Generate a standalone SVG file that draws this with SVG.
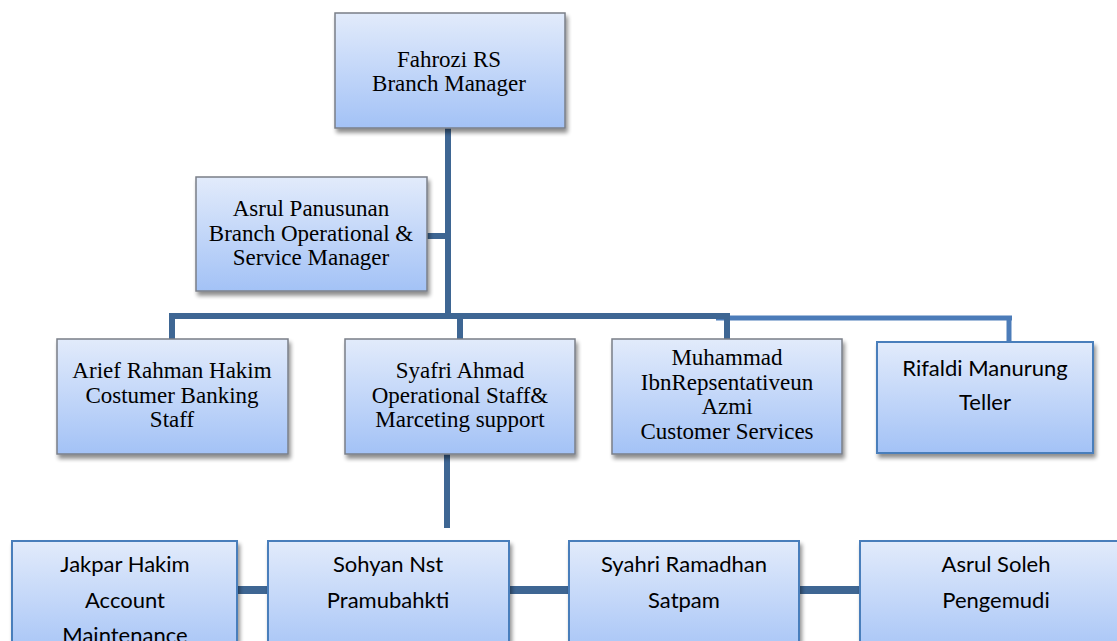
<svg xmlns="http://www.w3.org/2000/svg" width="1117" height="641" viewBox="0 0 1117 641">
<defs>
<linearGradient id="g" x1="0" y1="0" x2="0" y2="1">
<stop offset="0" stop-color="#E2EBFB"/>
<stop offset="1" stop-color="#A3C2F6"/>
</linearGradient>
<filter id="sh" x="-10%" y="-10%" width="130%" height="130%">
<feGaussianBlur in="SourceAlpha" stdDeviation="2"/>
<feOffset dx="2" dy="4" result="b"/>
<feComponentTransfer><feFuncA type="linear" slope="0.45"/></feComponentTransfer>
<feMerge><feMergeNode/><feMergeNode in="SourceGraphic"/></feMerge>
</filter>
</defs>
<style>
.box{fill:url(#g);stroke:#7A7F88;stroke-width:1.5;filter:url(#sh)}
.boxb{fill:url(#g);stroke:#4A7EBB;stroke-width:2;filter:url(#sh)}
.serif{font-family:"Liberation Serif","Times New Roman",serif;font-size:23px;fill:#000;text-anchor:middle}
.sans{font-family:Lato,"Open Sans","Liberation Sans",sans-serif;font-size:22px;fill:#000;text-anchor:middle}
.c{stroke:#3E6693;stroke-width:6;fill:none}
.cl{stroke:#4C7CB9;stroke-width:5;fill:none}
.cb{stroke:#3E6693;stroke-width:8;fill:none}
</style>
<g id="connectors">
<line class="c" x1="448" y1="128" x2="448" y2="319"/>
<line class="c" x1="427" y1="236" x2="451" y2="236"/>
<line class="cl" x1="716" y1="318" x2="1012" y2="318"/>
<line class="c" x1="169" y1="316" x2="729" y2="316"/>
<line class="c" x1="172" y1="313" x2="172" y2="339"/>
<line class="c" x1="460" y1="313" x2="460" y2="339"/>
<line class="c" x1="727" y1="313" x2="727" y2="339"/>
<line class="cl" x1="1009" y1="316" x2="1009" y2="343"/>
<line class="c" x1="447" y1="454" x2="447" y2="528"/>
<line class="cb" x1="237" y1="590" x2="268" y2="590"/>
<line class="cb" x1="509" y1="590" x2="569" y2="590"/>
<line class="cb" x1="799" y1="590" x2="860" y2="590"/>
</g>
<g id="n-fahrozi">
<rect class="box" x="335" y="13" width="230" height="115"/>
<text class="serif" x="449" y="67">Fahrozi RS</text>
<text class="serif" x="449" y="91">Branch Manager</text>
</g>
<g id="n-asrulp">
<rect class="box" x="196" y="177" width="231" height="114"/>
<text class="serif" x="311" y="216">Asrul Panusunan</text>
<text class="serif" x="311" y="240.5">Branch Operational &amp;</text>
<text class="serif" x="311" y="265">Service Manager</text>
</g>
<g id="n-arief">
<rect class="box" x="57" y="339" width="231" height="115"/>
<text class="serif" x="172" y="378">Arief Rahman Hakim</text>
<text class="serif" x="172" y="402.5">Costumer Banking</text>
<text class="serif" x="172" y="427">Staff</text>
</g>
<g id="n-syafri">
<rect class="box" x="345" y="339" width="230" height="115"/>
<text class="serif" x="460" y="378">Syafri Ahmad</text>
<text class="serif" x="460" y="402.5">Operational Staff&amp;</text>
<text class="serif" x="460" y="427">Marceting support</text>
</g>
<g id="n-muhammad">
<rect class="box" x="612" y="339" width="230" height="115"/>
<text class="serif" x="727" y="365">Muhammad</text>
<text class="serif" x="727" y="389.5">IbnRepsentativeun</text>
<text class="serif" x="727" y="414">Azmi</text>
<text class="serif" x="727" y="438.5">Customer Services</text>
</g>
<g id="n-rifaldi">
<rect class="boxb" x="877" y="342" width="216" height="111"/>
<text class="sans" x="985" y="376">Rifaldi Manurung</text>
<text class="sans" x="985" y="410">Teller</text>
</g>
<g id="n-jakpar">
<rect class="boxb" x="12" y="541" width="225" height="120"/>
<text class="sans" x="125" y="572">Jakpar Hakim</text>
<text class="sans" x="125" y="608">Account</text>
<text class="sans" x="125" y="643">Maintenance</text>
</g>
<g id="n-sohyan">
<rect class="boxb" x="268" y="541" width="241" height="120"/>
<text class="sans" x="388" y="572">Sohyan Nst</text>
<text class="sans" x="388" y="608">Pramubahkti</text>
</g>
<g id="n-syahri">
<rect class="boxb" x="569" y="541" width="230" height="120"/>
<text class="sans" x="684" y="572">Syahri Ramadhan</text>
<text class="sans" x="684" y="608">Satpam</text>
</g>
<g id="n-asruls">
<rect class="boxb" x="860" y="541" width="270" height="120"/>
<text class="sans" x="996" y="572">Asrul Soleh</text>
<text class="sans" x="996" y="608">Pengemudi</text>
</g>
</svg>
